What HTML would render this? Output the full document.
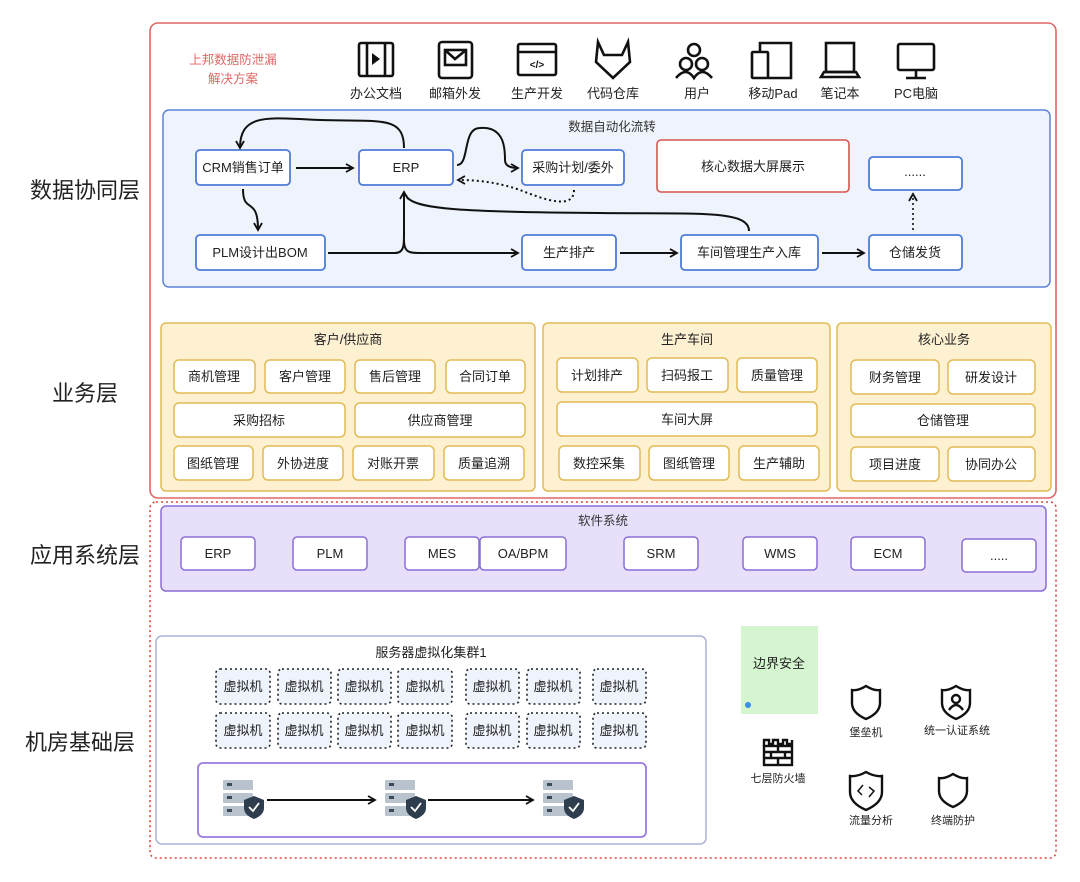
<!DOCTYPE html>
<html><head><meta charset="utf-8"><style>
html,body{margin:0;padding:0;background:#fff;}
svg{display:block;font-family:"Liberation Sans","Noto Sans CJK SC",sans-serif;}
</style></head><body>
<svg width="1080" height="882" viewBox="0 0 1080 882" xmlns="http://www.w3.org/2000/svg">
<defs>
<marker id="ar" markerWidth="10" markerHeight="10" refX="8" refY="5" orient="auto" markerUnits="userSpaceOnUse"><path d="M1,1 L8,5 L1,9" fill="none" stroke="#111" stroke-width="1.8"/></marker>
</defs>
<!-- layer labels -->
<g font-size="22" fill="#222" text-anchor="middle">
<text x="85" y="198">数据协同层</text>
<text x="85" y="401">业务层</text>
<text x="85" y="563">应用系统层</text>
<text x="80" y="750">机房基础层</text>
</g>
<!-- outer boxes -->
<rect x="150" y="23" width="906" height="475" rx="8" fill="none" stroke="#e06666" stroke-width="1.6"/>
<rect x="150" y="502" width="906" height="356" rx="6" fill="none" stroke="#e0473e" stroke-width="1.6" stroke-dasharray="2,3"/>
<text x="233" y="64" font-size="12.5" fill="#e06666" text-anchor="middle">上邦数据防泄漏</text>
<text x="233" y="83" font-size="12.5" fill="#e06666" text-anchor="middle">解决方案</text>
<!-- top icons -->
<g fill="none" stroke="#111" stroke-width="2.6">
<rect x="359" y="43" width="34" height="33" rx="2"/><line x1="367" y1="43" x2="367" y2="76"/><line x1="385" y1="43" x2="385" y2="76"/>
<rect x="439" y="42" width="33" height="36" rx="3"/><rect x="445" y="50" width="21" height="15"/><path d="M445,50 L455,59 L466,50"/>
<rect x="518" y="44" width="38" height="31" rx="2"/><line x1="518" y1="52" x2="556" y2="52"/>
<path d="M598,42 L604,55 L622,55 L628,42 L630,62 L613,78 L596,62 Z"/>
<circle cx="694" cy="50" r="6"/><circle cx="686" cy="64" r="6"/><circle cx="702" cy="64" r="6"/><path d="M676,78 Q686,66 694,78 Q702,66 712,78"/>
<rect x="752" y="52" width="16" height="26" rx="1"/><path d="M760,52 V43 H791 V78 H768"/>
<rect x="826" y="43" width="28" height="29"/><path d="M821,77 H859 L856,72 H824 Z"/>
<rect x="898" y="44" width="36" height="26" rx="2"/><line x1="916" y1="70" x2="916" y2="77"/><line x1="906" y1="78" x2="926" y2="78"/>
</g>
<path d="M372,53 L380,59 L372,65 Z" fill="#111"/>
<text x="537" y="68" font-size="10" font-weight="bold" text-anchor="middle" fill="#111">&lt;/&gt;</text>
<g font-size="13" fill="#222" text-anchor="middle">
<text x="376" y="98">办公文档</text><text x="455" y="98">邮箱外发</text><text x="537" y="98">生产开发</text><text x="613" y="98">代码仓库</text>
<text x="697" y="98">用户</text><text x="773" y="98">移动Pad</text><text x="840" y="98">笔记本</text><text x="916" y="98">PC电脑</text>
</g>
<!-- blue panel -->
<rect x="163" y="110" width="887" height="177" rx="6" fill="#eef3fc" stroke="#5b82d8" stroke-width="1.5"/>
<text x="612" y="131" font-size="12.5" fill="#333" text-anchor="middle">数据自动化流转</text>
<g fill="#fff" stroke="#4f7bd9" stroke-width="1.8">
<rect x="196" y="150" width="94" height="35" rx="4"/>
<rect x="359" y="150" width="94" height="35" rx="4"/>
<rect x="522" y="150" width="102" height="35" rx="4"/>
<rect x="869" y="157" width="93" height="33" rx="4"/>
<rect x="196" y="235" width="129" height="35" rx="4"/>
<rect x="522" y="235" width="94" height="35" rx="4"/>
<rect x="681" y="235" width="137" height="35" rx="4"/>
<rect x="869" y="235" width="93" height="35" rx="4"/>
</g>
<rect x="657" y="140" width="192" height="52" rx="4" fill="#fff" stroke="#d9534f" stroke-width="1.6"/>
<g font-size="13" fill="#222" text-anchor="middle">
<text x="243" y="172">CRM销售订单</text><text x="406" y="172">ERP</text><text x="573" y="172">采购计划/委外</text>
<text x="753" y="171">核心数据大屏展示</text><text x="915" y="176">......</text>
<text x="260" y="257">PLM设计出BOM</text><text x="569" y="257">生产排产</text><text x="749" y="257">车间管理生产入库</text><text x="915" y="257">仓储发货</text>
</g>
<g fill="none" stroke="#111" stroke-width="2">
<line x1="296" y1="168" x2="353" y2="168" marker-end="url(#ar)"/>
<path d="M404,148 C404,115 380,122 320,120 C270,118 240,112 240,148" marker-end="url(#ar)"/>
<path d="M457,165 C470,165 462,128 480,128 C505,126 505,150 505,160 C505,168 515,168 518,168" marker-end="url(#ar)"/>
<path d="M574,190 C574,210 545,200 520,190 C500,183 480,180 458,180" stroke-dasharray="2,3" marker-end="url(#ar)"/>
<path d="M243,189 C243,215 258,195 258,230" marker-end="url(#ar)"/>
<path d="M328,253 L395,253 C404,253 404,245 404,235 L404,192" marker-end="url(#ar)"/>
<path d="M404,240 C404,253 410,253 420,253 L518,253" marker-end="url(#ar)"/>
<path d="M749,231 C749,210 700,214 600,213 C470,212 410,210 406,195"/>
<line x1="620" y1="253" x2="677" y2="253" marker-end="url(#ar)"/>
<line x1="822" y1="253" x2="864" y2="253" marker-end="url(#ar)"/>
<line x1="913" y1="230" x2="913" y2="194" stroke-dasharray="2,3" stroke-width="1.6" marker-end="url(#ar)"/>
</g>
<!-- business layer -->
<g fill="#fdf1d2" stroke="#e2bb55" stroke-width="1.5">
<rect x="161" y="323" width="374" height="168" rx="5"/>
<rect x="543" y="323" width="287" height="168" rx="5"/>
<rect x="837" y="323" width="214" height="168" rx="5"/>
</g>
<g font-size="13" fill="#222" text-anchor="middle">
<text x="348" y="344">客户/供应商</text><text x="687" y="344">生产车间</text><text x="944" y="344">核心业务</text>
</g>
<g fill="#fff" stroke="#e2bb55" stroke-width="1.5">
<rect x="174" y="360" width="81" height="33" rx="5"/><rect x="265" y="360" width="80" height="33" rx="5"/><rect x="355" y="360" width="80" height="33" rx="5"/><rect x="446" y="360" width="79" height="33" rx="5"/>
<rect x="174" y="403" width="171" height="34" rx="5"/><rect x="355" y="403" width="170" height="34" rx="5"/>
<rect x="174" y="446" width="79" height="34" rx="5"/><rect x="263" y="446" width="80" height="34" rx="5"/><rect x="353" y="446" width="81" height="34" rx="5"/><rect x="444" y="446" width="80" height="34" rx="5"/>
<rect x="557" y="358" width="81" height="34" rx="5"/><rect x="647" y="358" width="81" height="34" rx="5"/><rect x="737" y="358" width="80" height="34" rx="5"/>
<rect x="557" y="402" width="260" height="34" rx="5"/>
<rect x="559" y="446" width="81" height="34" rx="5"/><rect x="649" y="446" width="80" height="34" rx="5"/><rect x="739" y="446" width="80" height="34" rx="5"/>
<rect x="851" y="360" width="88" height="34" rx="5"/><rect x="948" y="360" width="87" height="34" rx="5"/>
<rect x="851" y="404" width="184" height="33" rx="5"/>
<rect x="851" y="447" width="88" height="34" rx="5"/><rect x="948" y="447" width="87" height="34" rx="5"/>
</g>
<g font-size="13" fill="#222" text-anchor="middle">
<text x="214" y="381">商机管理</text><text x="305" y="381">客户管理</text><text x="395" y="381">售后管理</text><text x="485" y="381">合同订单</text>
<text x="259" y="425">采购招标</text><text x="440" y="425">供应商管理</text>
<text x="213" y="468">图纸管理</text><text x="303" y="468">外协进度</text><text x="393" y="468">对账开票</text><text x="484" y="468">质量追溯</text>
<text x="597" y="380">计划排产</text><text x="687" y="380">扫码报工</text><text x="777" y="380">质量管理</text>
<text x="687" y="424">车间大屏</text>
<text x="599" y="468">数控采集</text><text x="689" y="468">图纸管理</text><text x="779" y="468">生产辅助</text>
<text x="895" y="382">财务管理</text><text x="991" y="382">研发设计</text>
<text x="943" y="425">仓储管理</text>
<text x="895" y="469">项目进度</text><text x="991" y="469">协同办公</text>
</g>
<!-- application layer -->
<rect x="161" y="506" width="885" height="85" rx="5" fill="#e8e0fb" stroke="#8a6fd6" stroke-width="1.5"/>
<text x="603" y="525" font-size="12.5" fill="#333" text-anchor="middle">软件系统</text>
<g fill="#fff" stroke="#8a6fd6" stroke-width="1.5">
<rect x="181" y="537" width="74" height="33" rx="4"/><rect x="293" y="537" width="74" height="33" rx="4"/><rect x="405" y="537" width="74" height="33" rx="4"/><rect x="480" y="537" width="86" height="33" rx="4"/>
<rect x="624" y="537" width="74" height="33" rx="4"/><rect x="743" y="537" width="74" height="33" rx="4"/><rect x="851" y="537" width="74" height="33" rx="4"/><rect x="962" y="539" width="74" height="33" rx="4"/>
</g>
<g font-size="13" fill="#222" text-anchor="middle">
<text x="218" y="558">ERP</text><text x="330" y="558">PLM</text><text x="442" y="558">MES</text><text x="523" y="558">OA/BPM</text>
<text x="661" y="558">SRM</text><text x="780" y="558">WMS</text><text x="888" y="558">ECM</text><text x="999" y="560">.....</text>
</g>
<!-- server cluster -->
<rect x="156" y="636" width="550" height="208" rx="6" fill="#fff" stroke="#aab2d8" stroke-width="1.5"/>
<text x="431" y="657" font-size="13" fill="#222" text-anchor="middle">服务器虚拟化集群1</text>
<g fill="#eef3fc" stroke="#222" stroke-width="1.6" stroke-dasharray="2,3">
<rect x="216" y="669" width="54" height="35" rx="4"/><rect x="278" y="669" width="53" height="35" rx="4"/><rect x="338" y="669" width="53" height="35" rx="4"/><rect x="398" y="669" width="54" height="35" rx="4"/><rect x="466" y="669" width="53" height="35" rx="4"/><rect x="527" y="669" width="53" height="35" rx="4"/><rect x="593" y="669" width="53" height="35" rx="4"/>
<rect x="216" y="713" width="54" height="35" rx="4"/><rect x="278" y="713" width="53" height="35" rx="4"/><rect x="338" y="713" width="53" height="35" rx="4"/><rect x="398" y="713" width="54" height="35" rx="4"/><rect x="466" y="713" width="53" height="35" rx="4"/><rect x="527" y="713" width="53" height="35" rx="4"/><rect x="593" y="713" width="53" height="35" rx="4"/>
</g>
<g font-size="13" fill="#222" text-anchor="middle">
<text x="243" y="691">虚拟机</text><text x="304" y="691">虚拟机</text><text x="364" y="691">虚拟机</text><text x="425" y="691">虚拟机</text><text x="492" y="691">虚拟机</text><text x="553" y="691">虚拟机</text><text x="619" y="691">虚拟机</text>
<text x="243" y="735">虚拟机</text><text x="304" y="735">虚拟机</text><text x="364" y="735">虚拟机</text><text x="425" y="735">虚拟机</text><text x="492" y="735">虚拟机</text><text x="553" y="735">虚拟机</text><text x="619" y="735">虚拟机</text>
</g>
<rect x="198" y="763" width="448" height="74" rx="5" fill="#fff" stroke="#9b7ae0" stroke-width="1.8"/>
<g id="srv">
<rect x="223" y="780" width="30" height="10" rx="1" fill="#b9c3cd"/><rect x="223" y="793" width="30" height="10" rx="1" fill="#b9c3cd"/><rect x="223" y="806" width="30" height="10" rx="1" fill="#b9c3cd"/>
<rect x="227" y="783" width="5" height="3" fill="#3b4a5a"/><rect x="227" y="796" width="5" height="3" fill="#3b4a5a"/><rect x="227" y="809" width="5" height="3" fill="#3b4a5a"/>
<path d="M254,796 L264,800 L264,808 Q264,815 254,819 Q244,815 244,808 L244,800 Z" fill="#2f3e4e"/>
<path d="M249,807 L253,811 L259,803" fill="none" stroke="#fff" stroke-width="1.8"/>
</g>
<use href="#srv" x="162" y="0"/><use href="#srv" x="320" y="0"/>
<g fill="none" stroke="#111" stroke-width="2">
<line x1="267" y1="800" x2="375" y2="800" marker-end="url(#ar)"/>
<line x1="428" y1="800" x2="533" y2="800" marker-end="url(#ar)"/>
</g>
<!-- security -->
<rect x="741" y="626" width="77" height="88" fill="#d4f5d0"/>
<text x="779" y="668" font-size="13" fill="#222" text-anchor="middle">边界安全</text>
<circle cx="748" cy="705" r="3" fill="#3a8ee6"/>
<g fill="none" stroke="#111" stroke-width="2.4">
<rect x="764" y="746" width="28" height="19"/><path d="M764,746 V740 H769 V744 H773 V740 H778 V744 H783 V740 H787 V744 H792 V740" /><line x1="764" y1="752" x2="792" y2="752"/><line x1="764" y1="758" x2="792" y2="758"/><line x1="778" y1="746" x2="778" y2="752"/><line x1="771" y1="752" x2="771" y2="758"/><line x1="785" y1="752" x2="785" y2="758"/><line x1="778" y1="758" x2="778" y2="765"/>
<path d="M866,686 Q858,691 852,690 L852,703 Q852,713 866,719 Q880,713 880,703 L880,690 Q874,691 866,686 Z"/>
<path d="M956,686 Q948,691 942,690 L942,703 Q942,713 956,719 Q970,713 970,703 L970,690 Q964,691 956,686 Z"/>
<circle cx="956" cy="699" r="4"/><path d="M949,710 Q956,700 963,710"/>
<path d="M866,772 Q857,777 850,776 L850,792 Q850,803 866,810 Q882,803 882,792 L882,776 Q875,777 866,772 Z"/>
<path d="M953,774 Q945,779 939,778 L939,791 Q939,801 953,807 Q967,801 967,791 L967,778 Q961,779 953,774 Z"/>
</g>
<path d="M863,785 L858,791 L862,795 M869,787 L874,791 L869,797" fill="none" stroke="#111" stroke-width="1.5"/>
<g font-size="11" fill="#222" text-anchor="middle">
<text x="778" y="782">七层防火墙</text><text x="866" y="736">堡垒机</text><text x="957" y="734">统一认证系统</text><text x="871" y="824">流量分析</text><text x="953" y="824">终端防护</text>
</g>
</svg>
</body></html>
